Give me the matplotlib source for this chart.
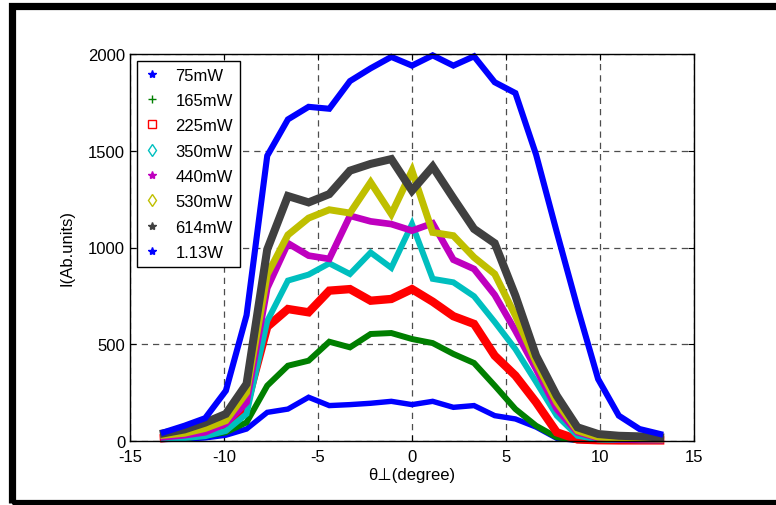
import numpy as np
import matplotlib
matplotlib.use('Agg')
import matplotlib.pyplot as plt
from matplotlib.lines import Line2D
from matplotlib.patches import Rectangle

plt.rcParams['font.family'] = ['Liberation Sans', 'DejaVu Sans']
plt.rcParams['axes.unicode_minus'] = False

# angle (degree)
theta = [-13.2, -12.1, -11.0, -9.9, -8.8, -7.7, -6.6, -5.5, -4.4, -3.3, -2.2, -1.1, 0.0,
         1.1, 2.2, 3.3, 4.4, 5.5, 6.6, 7.7, 8.8, 9.9, 11.0, 12.1, 13.2]

I_75 = [8, 10, 16, 30, 62, 148, 165, 226, 183, 188, 195, 205, 188,
        205, 174, 183, 131, 114, 72, 14, 3, 2, 2, 2, 2]
I_165 = [10, 15, 27, 45, 96, 286, 389, 415, 513, 484, 553, 558, 527,
         506, 450, 403, 286, 165, 79, 19, 5, 3, 2, 2, 2]
I_225 = [15, 22, 35, 60, 190, 590, 682, 665, 777, 785, 725, 734, 785,
         720, 645, 605, 441, 338, 200, 45, 8, 4, 3, 3, 3]
I_350 = [12, 15, 25, 52, 140, 620, 829, 860, 918, 863, 974, 895, 1121,
         838, 820, 748, 615, 475, 305, 131, 27, 8, 5, 4, 4]
I_440 = [20, 30, 45, 90, 200, 790, 1022, 958, 941, 1164, 1135, 1121, 1087,
         1125, 937, 889, 755, 570, 372, 165, 45, 15, 8, 6, 5]
I_530 = [30, 40, 65, 105, 250, 860, 1065, 1152, 1195, 1178, 1337, 1173, 1397,
         1078, 1061, 949, 863, 648, 407, 200, 53, 20, 15, 12, 10]
I_614 = [40, 60, 95, 140, 295, 990, 1266, 1233, 1276, 1397, 1432, 1457, 1294,
         1418, 1255, 1096, 1022, 751, 441, 234, 71, 36, 27, 24, 19]
I_1130 = [45, 79, 118, 260, 650, 1474, 1662, 1727, 1717, 1860, 1926, 1985, 1940,
          1993, 1940, 1988, 1854, 1798, 1480, 1080, 690, 320, 131, 62, 36]

labels = ['75mW', '165mW', '225mW', '350mW', '440mW', '530mW', '614mW', '1.13W']
series = [I_75, I_165, I_225, I_350, I_440, I_530, I_614, I_1130]
colors = ['#0000ff', '#007f00', '#ff0000', '#00bfbf', '#bf00bf', '#bfbf00', '#404040', '#0000ff']
widths = [3.9, 4.3, 6.0, 4.3, 4.8, 5.0, 5.8, 4.4]
markers = ['*', '+', 's', 'd', '*', 'd', '*', '*']

fig = plt.figure(figsize=(7.76, 5.06), dpi=100)
ax = fig.add_axes([130/776, 1-442/506, 564/776, 387/506])

for y, c, lw in zip(series, colors, widths):
    ax.plot(theta, y, color=c, lw=lw, solid_joinstyle='miter', clip_on=False)

ax.set_xlim(-15, 15)
ax.set_ylim(0, 2000)
ax.set_xticks([-15, -10, -5, 0, 5, 10, 15])
ax.set_yticks([0, 500, 1000, 1500, 2000])
ax.tick_params(direction='in', length=4, top=True, right=True, labelsize=12, width=0.8)
ax.tick_params(axis='x', pad=6)
ax.grid(True, color='0.3', linestyle=(0, (5, 4)), lw=0.9)
for s in ax.spines.values():
    s.set_linewidth(1.0)
ax.set_xlabel('θ⊥(degree)', fontsize=12, labelpad=2)
ax.set_ylabel('I(Ab.units)', fontsize=12, labelpad=10)

handles = []
for lab, c, m in zip(labels, colors, markers):
    fc = c if m in ('*', '+') else 'none'
    handles.append(Line2D([], [], ls='none', marker=m, color=c, mfc=fc, ms=6, mew=1.0, label=lab))
leg = ax.legend(handles=handles, loc='upper left', bbox_to_anchor=(7/564, 1-7/387),
                borderaxespad=0, fontsize=12, fancybox=False, framealpha=1,
                edgecolor='black', handlelength=1.0, handletextpad=0.9,
                labelspacing=0.62, borderpad=0.4)
leg.get_frame().set_linewidth(1.0)

# outer black frame
fig.add_artist(Rectangle((12/776, 1-504/506), 2, (504-6.5)/506, transform=fig.transFigure,
                         fill=False, ec='black', lw=5.2))

fig.savefig('out.png', dpi=100)
